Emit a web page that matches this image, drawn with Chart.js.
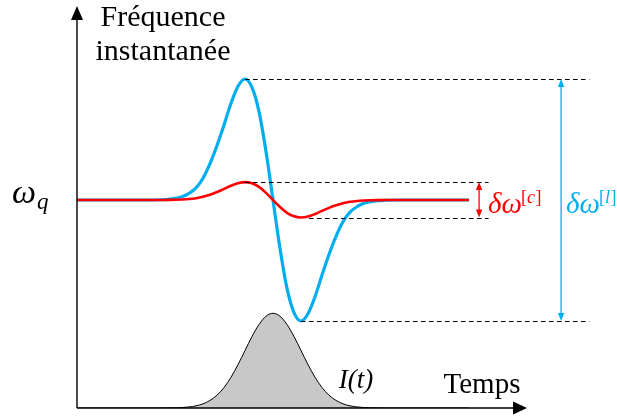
<!DOCTYPE html>
<html>
<head>
<meta charset="utf-8">
<script src="https://cdn.jsdelivr.net/npm/chart.js@4.4.1/dist/chart.umd.min.js"></script>
<style>
  body { margin: 0; background: #fff; }
</style>
</head>
<body>
<canvas id="freqChart" width="617" height="417"></canvas>
<script>
// time samples (pulse centred at 0, one unit = pulse width)
let times = [-7, -6, -5, -4.5, -4, -3.75, -3.5, -3.25, -3, -2.75, -2.5, -2.25, -2, -1.75, -1.5, -1.25, -1, -0.75, -0.5, -0.25,
    0, 0.25, 0.5, 0.75, 1, 1.25, 1.5, 1.75, 2, 2.25, 2.5, 2.75, 3, 3.25, 3.5, 3.75, 4, 4.5, 5, 6, 7];

// frequency shift, blue curve (large)
let blueShift = [0, 0, 0, 0, 0.002, 0.005, 0.013, 0.027, 0.055, 0.10, 0.18, 0.30, 0.45, 0.62, 0.80, 0.94, 1.0, 0.93, 0.73, 0.40,
    0, -0.40, -0.73, -0.93, -1.0, -0.94, -0.80, -0.62, -0.45, -0.30, -0.18, -0.10, -0.055, -0.027, -0.013, -0.005, -0.002, 0, 0, 0, 0];

// frequency shift, red curve (small)
let redShift = [0, 0, 0, 0, 0, 0.001, 0.002, 0.004, 0.008, 0.015, 0.027, 0.044, 0.066, 0.092, 0.118, 0.139, 0.148, 0.138, 0.108, 0.059,
    0, -0.058, -0.106, -0.135, -0.145, -0.137, -0.116, -0.09, -0.065, -0.043, -0.026, -0.015, -0.008, -0.004, -0.002, -0.001, 0, 0, 0, 0, 0];

// pulse intensity I(t)
let intensity = [0, 0, 0, 0, 0.0003, 0.001, 0.002, 0.005, 0.011, 0.023, 0.044, 0.08, 0.135, 0.216, 0.325, 0.458, 0.607, 0.755, 0.882, 0.969,
    1, 0.969, 0.882, 0.755, 0.607, 0.458, 0.325, 0.216, 0.135, 0.08, 0.044, 0.023, 0.011, 0.005, 0.002, 0.001, 0.0003, 0, 0, 0, 0];

let blueColor = '#00aeef';
let redColor = '#ff0000';
let times_font = '"Liberation Serif", "DejaVu Serif", serif';

function toPoints(values) {
    return times.map((t, i) => ({ x: t, y: values[i] }));
}

function arrowHead(ctx, x, y, dx, dy, len, half) {
    // dx, dy: unit direction the arrow points to
    ctx.beginPath();
    ctx.moveTo(x, y);
    ctx.lineTo(x - dx * len - dy * half, y - dy * len + dx * half);
    ctx.lineTo(x - dx * len + dy * half, y - dy * len - dx * half);
    ctx.closePath();
    ctx.fill();
}

function doubleArrow(ctx, x, y1, y2, color) {
    ctx.strokeStyle = color;
    ctx.fillStyle = color;
    ctx.lineWidth = 1.3;
    ctx.setLineDash([]);
    ctx.beginPath();
    ctx.moveTo(x, y1 + 4);
    ctx.lineTo(x, y2 - 4);
    ctx.stroke();
    arrowHead(ctx, x, y1, 0, -1, 8, 3.2);
    arrowHead(ctx, x, y2, 0, 1, 8, 3.2);
}

function dashed(ctx, x1, x2, yy) {
    yy = Math.round(yy) + 0.5;
    ctx.strokeStyle = '#000';
    ctx.lineWidth = 1;
    ctx.setLineDash([4.5, 3.5]);
    ctx.beginPath();
    ctx.moveTo(x1, yy);
    ctx.lineTo(x2, yy);
    ctx.stroke();
    ctx.setLineDash([]);
}

function deltaLabel(ctx, x, baseY, sup, color) {
    ctx.fillStyle = color;
    ctx.font = 'italic 29px ' + times_font;
    ctx.fillText('δω', x, baseY);
    let px = x + ctx.measureText('δω').width - 1;
    let supY = baseY - 10;
    ctx.font = '18px ' + times_font;
    ctx.fillText('[', px, supY);
    px += ctx.measureText('[').width;
    ctx.font = 'italic 18px ' + times_font;
    ctx.fillText(sup, px, supY);
    px += ctx.measureText(sup).width + 0.5;
    ctx.font = '18px ' + times_font;
    ctx.fillText(']', px, supY);
}

const decorations = {
    id: 'decorations',
    afterDatasetsDraw(chart) {
        let ctx = chart.ctx;
        let xs = chart.scales.x;
        let ys = chart.scales.y;
        let area = chart.chartArea;
        ctx.save();

        // axes with arrows
        let ox = xs.getPixelForValue(times[0]);
        let oy = area.bottom;
        ctx.strokeStyle = '#000';
        ctx.fillStyle = '#000';
        ctx.lineWidth = 1.4;
        ctx.beginPath();
        ctx.moveTo(ox, oy);
        ctx.lineTo(ox, 16);
        ctx.moveTo(ox, oy);
        ctx.lineTo(518, oy);
        ctx.stroke();
        arrowHead(ctx, ox, 6, 0, -1, 14, 6);
        arrowHead(ctx, 527, oy, 1, 0, 14, 6.5);

        // dashed level lines
        let bMax = Math.max(...blueShift), bMin = Math.min(...blueShift);
        let rMax = Math.max(...redShift), rMin = Math.min(...redShift);
        let tbMax = times[blueShift.indexOf(bMax)], tbMin = times[blueShift.indexOf(bMin)];
        let trMax = times[redShift.indexOf(rMax)], trMin = times[redShift.indexOf(rMin)];
        let farEnd = xs.getPixelForValue(11.3);
        let nearEnd = xs.getPixelForValue(7.7);
        dashed(ctx, xs.getPixelForValue(tbMax), farEnd, ys.getPixelForValue(bMax));
        dashed(ctx, xs.getPixelForValue(tbMin), farEnd, ys.getPixelForValue(bMin));
        dashed(ctx, xs.getPixelForValue(trMax), nearEnd, ys.getPixelForValue(rMax));
        dashed(ctx, xs.getPixelForValue(trMin) + 8, nearEnd, ys.getPixelForValue(rMin));

        // amplitude arrows
        let redX = xs.getPixelForValue(7.36);
        let blueX = xs.getPixelForValue(10.29);
        doubleArrow(ctx, redX, ys.getPixelForValue(rMax), ys.getPixelForValue(rMin), redColor);
        doubleArrow(ctx, blueX, ys.getPixelForValue(bMax), ys.getPixelForValue(bMin), blueColor);

        let baseY = ys.getPixelForValue(0);
        deltaLabel(ctx, redX + 9, baseY + 13, 'c', redColor);
        deltaLabel(ctx, blueX + 5, baseY + 13, 'l', blueColor);

        // texts
        ctx.fillStyle = '#000';
        ctx.textAlign = 'center';
        ctx.font = '30px ' + times_font;
        ctx.fillText('Fréquence', 163, 26);
        ctx.fillText('instantanée', 163, 60);
        ctx.font = '29px ' + times_font;
        ctx.fillText('Temps', 482, 393);
        ctx.font = 'italic 27px ' + times_font;
        ctx.fillText('I(t)', 356, 388);

        ctx.textAlign = 'left';
        ctx.font = 'italic 34px ' + times_font;
        ctx.fillText('ω', 12, baseY + 3);
        let wq = ctx.measureText('ω').width;
        ctx.font = 'italic 23px ' + times_font;
        ctx.fillText('q', 13 + wq, baseY + 9);

        ctx.restore();
    }
};

function drawChart() {
    let ctx = document.getElementById('freqChart').getContext('2d');
    new Chart(ctx, {
        type: 'line',
        data: {
            datasets: [{
                label: 'red',
                data: toPoints(redShift),
                borderColor: redColor,
                borderWidth: 2.6,
                yAxisID: 'y',
                order: 1
            }, {
                label: 'blue',
                data: toPoints(blueShift),
                borderColor: blueColor,
                borderWidth: 3.2,
                yAxisID: 'y',
                order: 2
            }, {
                label: 'I(t)',
                data: toPoints(intensity),
                borderColor: '#000',
                borderWidth: 1,
                backgroundColor: '#c8c8c8',
                fill: 'origin',
                yAxisID: 'y2',
                order: 3
            }]
        },
        options: {
            responsive: false,
            animation: false,
            layout: { padding: { left: 77, right: 8, top: 8, bottom: 9 } },
            elements: {
                point: { radius: 0 },
                line: { cubicInterpolationMode: 'monotone' }
            },
            scales: {
                x: { type: 'linear', min: -7, max: 12, display: false },
                y: { min: -1.719, max: 1.587, display: false },
                y2: { min: 0, max: 4.224, display: false }
            },
            plugins: {
                legend: { display: false },
                tooltip: { enabled: false }
            }
        },
        plugins: [decorations]
    });
}

Promise.all([
    document.fonts.load('30px "Liberation Serif"'),
    document.fonts.load('italic 30px "Liberation Serif"')
]).then(drawChart, drawChart);
</script>
</body>
</html>
